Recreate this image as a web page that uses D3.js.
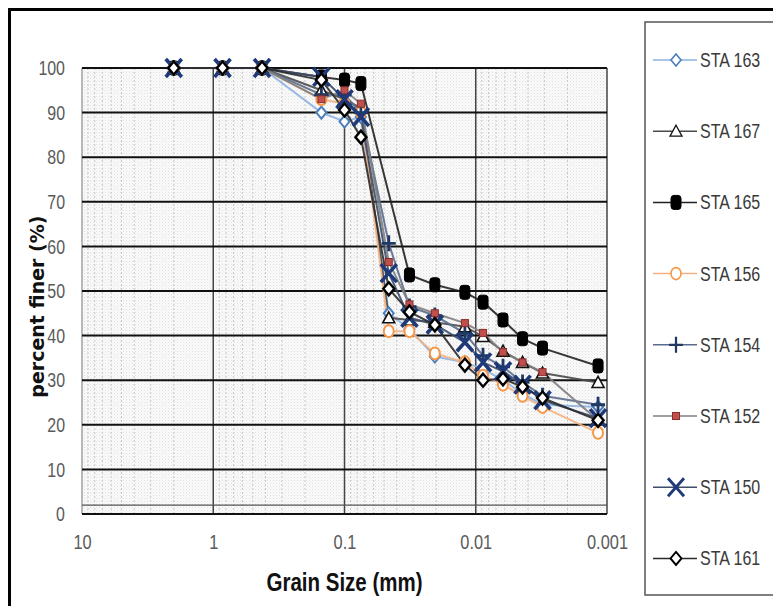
<!DOCTYPE html>
<html>
<head>
<meta charset="utf-8">
<script src="https://cdn.jsdelivr.net/npm/d3@7"></script>
<style>
  body { margin: 0; background: #ffffff; }
  #chart { width: 773px; height: 606px; }
</style>
</head>
<body>
<div id="chart"></div>
<script>
// series names, in legend order
let seriesNames = ['STA 163', 'STA 167', 'STA 165', 'STA 156', 'STA 154', 'STA 152', 'STA 150', 'STA 161']
// grain sizes (mm): sieve part then hydrometer part
let grainSizes = [2, 0.85, 0.425, 0.15, 0.1, 0.075, 0.046, 0.032, 0.0205, 0.0121, 0.0088, 0.0062, 0.0044, 0.0031, 0.00117]
// percent finer per station (null = no reading)
let sta163 = [100, 100, 100, 90, 88, 89, 45, 41.5, 35.3, 34, 32.5, 30, 27, 24.5, 24]
let sta167 = [100, 100, 100, 95, 93, 91, 44, 43.5, 43, 42, 39.8, 36.5, 34, 31.6, 29.5]
let sta165 = [100, 100, 100, 98, 97.3, 96.5, null, 53.6, 51.4, 49.7, 47.5, 43.5, 39.3, 37.2, 33.2]
let sta156 = [100, 100, 100, 93, 92, 90, 41, 41, 36, 34, 31, 29, 26.5, 24, 18.2]
let sta154 = [100, 100, 100, 94, 94, 90, 60.7, 46.5, 44.5, 40.5, 35.5, 33, 29.5, 26.5, 24.5]
let sta152 = [100, 100, 100, 93, 95, 92, 56.5, 47, 45, 42.8, 40.6, 36.3, 34, 31.8, 21]
let sta150 = [100, 100, 100, 98, 93, 89, 54, 44, 42.5, 38.5, 34, 32, 29, 25.5, 21.5]
let sta161 = [100, 100, 100, 97.3, 90.6, 84.5, 50.5, 45.3, 42.4, 33.4, 30, 30.3, 28.5, 26, 21]
let xTicks = [10, 1, 0.1, 0.01, 0.001]
let xTickLabels = ['10', '1', '0.1', '0.01', '0.001']
let yTicks = [0, 10, 20, 30, 40, 50, 60, 70, 80, 90, 100]

// squeeze text horizontally, the fonts here are wider than the original one
function condense (sel, f) {
  sel.each(function () {
    let t = d3.select(this)
    let tx = +t.attr('x') || 0
    let ty = +t.attr('y') || 0
    t.attr('x', 0)
      .attr('y', 0)
      .attr('transform', 'translate(' + tx + ',' + ty + ') scale(' + f + ',1)')
  })
}

let initChart = () => {
  let width = 773
  let height = 606
  let margin = { left: 82, right: 166, top: 68, bottom: 92 }
  let font = 'Liberation Sans, Arial, sans-serif'

  let svg = d3.select('#chart')
    .append('svg')
    .attr('width', width)
    .attr('height', height)

  svg.append('rect')
    .attr('width', width)
    .attr('height', height)
    .attr('fill', '#ffffff')

  let x = d3.scaleLog()
    .domain([10, 0.001])
    .range([margin.left, width - margin.right])
  let y = d3.scaleLinear()
    .domain([0, 100])
    .range([height - margin.bottom, margin.top])

  // dotted texture of the plot area
  let defs = svg.append('defs')
  let pat = defs.append('pattern')
    .attr('id', 'dots')
    .attr('width', 3)
    .attr('height', 3)
    .attr('patternUnits', 'userSpaceOnUse')
  pat.append('rect').attr('width', 3).attr('height', 3).attr('fill', '#fafafa')
  pat.append('rect').attr('width', 1).attr('height', 1).attr('fill', '#e0e0e0')
  pat.append('rect').attr('x', 1.5).attr('y', 1.5).attr('width', 1).attr('height', 1).attr('fill', '#ebebeb')

  svg.append('rect')
    .attr('x', x(10))
    .attr('y', y(100))
    .attr('width', x(0.001) - x(10))
    .attr('height', y(0) - y(100))
    .attr('fill', 'url(#dots)')

  // minor vertical grid
  let minor = []
  xTicks.slice(1).forEach(function (t) {
    for (let k = 2; k <= 9; k++) minor.push(t * k)
  })
  svg.append('g')
    .selectAll('line')
    .data(minor)
    .enter()
    .append('line')
    .attr('x1', function (d) { return x(d) })
    .attr('x2', function (d) { return x(d) })
    .attr('y1', y(100))
    .attr('y2', y(0))
    .attr('stroke', '#c8c8c8')
    .attr('stroke-width', 1)
    .attr('stroke-dasharray', '2,2')

  // major vertical grid
  svg.append('g')
    .selectAll('line')
    .data(xTicks)
    .enter()
    .append('line')
    .attr('x1', function (d) { return x(d) })
    .attr('x2', function (d) { return x(d) })
    .attr('y1', y(100))
    .attr('y2', y(0))
    .attr('stroke', function (d) { return (d === 10) ? '#a0a0a0' : '#444444' })
    .attr('stroke-width', 1.5)

  // horizontal grid
  svg.append('g')
    .selectAll('line')
    .data(yTicks)
    .enter()
    .append('line')
    .attr('x1', x(10))
    .attr('x2', x(0.001))
    .attr('y1', function (d) { return y(d) })
    .attr('y2', function (d) { return y(d) })
    .attr('stroke', '#111111')
    .attr('stroke-width', 2)
  svg.append('line')
    .attr('x1', x(10))
    .attr('x2', x(0.001))
    .attr('y1', y(2))
    .attr('y2', y(2))
    .attr('stroke', '#555555')
    .attr('stroke-width', 1.2)

  // axes
  let yAxis = d3.axisLeft(y).tickValues(yTicks).tickSize(0).tickPadding(17)
  svg.append('g')
    .attr('transform', 'translate(' + x(10) + ',0)')
    .call(yAxis)
    .call(function (g) { g.select('.domain').remove() })
    .selectAll('text')
    .attr('font-family', font)
    .attr('font-size', 21)
    .attr('fill', '#5a5a5a')
    .call(condense, 0.76)

  let xAxis = d3.axisBottom(x)
    .tickValues(xTicks)
    .tickFormat(function (d, i) { return xTickLabels[i] })
    .tickSize(0)
    .tickPadding(20)
  svg.append('g')
    .attr('transform', 'translate(0,' + y(0) + ')')
    .call(xAxis)
    .call(function (g) { g.select('.domain').remove() })
    .selectAll('text')
    .attr('font-family', font)
    .attr('font-size', 21)
    .attr('fill', '#5a5a5a')
    .call(condense, 0.78)

  svg.append('text')
    .attr('x', x(0.1))
    .attr('y', 591)
    .attr('text-anchor', 'middle')
    .attr('font-family', font)
    .attr('font-weight', 'bold')
    .attr('font-size', 25)
    .attr('fill', '#111111')
    .text('Grain Size (mm)')
    .call(condense, 0.82)

  svg.append('text')
    .attr('transform', 'translate(44,' + y(46.5) + ') rotate(-90)')
    .attr('text-anchor', 'middle')
    .attr('font-family', 'DejaVu Sans, Verdana, sans-serif')
    .attr('font-weight', 'bold')
    .attr('font-size', 19)
    .attr('fill', '#111111')
    .text('percent finer (%)')

  // series styles
  let values = [sta163, sta167, sta165, sta156, sta154, sta152, sta150, sta161]
  let lineColor = ['#8db3e2', '#4a4a4a', '#222222', '#f4b183', '#5b6b8c', '#808080', '#3d4d6a', '#2b2b2b']
  let markColor = ['#4a7ebb', '#111111', '#000000', '#f79646', '#1f3864', '#c0504d', '#1f3a78', '#000000']

  let data = seriesNames.map(function (name, i) {
    return {
      name: name,
      i: i,
      points: grainSizes.map(function (s, j) {
        return { size: s, pct: values[i][j] }
      }).filter(function (p) { return p.pct !== null })
    }
  })

  let line = d3.line()
    .x(function (d) { return x(d.size) })
    .y(function (d) { return y(d.pct) })

  function drawMarker (g, i, scale) {
    let c = markColor[i]
    if (i === 0) {
      g.append('path').attr('d', 'M0,-6L5,0L0,6L-5,0Z')
        .attr('fill', '#ffffff').attr('stroke', c).attr('stroke-width', 2 * scale)
    } else if (i === 1) {
      g.append('path').attr('d', 'M0,-6L6,5L-6,5Z')
        .attr('fill', '#ffffff').attr('stroke', c).attr('stroke-width', 1.6 * scale)
    } else if (i === 2) {
      g.append('rect').attr('x', -5).attr('y', -7).attr('width', 10).attr('height', 14)
        .attr('rx', 3).attr('fill', c).attr('stroke', '#000000').attr('stroke-width', 1)
    } else if (i === 3) {
      g.append('ellipse').attr('rx', 5).attr('ry', 6)
        .attr('fill', '#ffffff').attr('stroke', c).attr('stroke-width', 2 * scale)
    } else if (i === 4) {
      g.append('path').attr('d', 'M-7,0H7M0,-8V8')
        .attr('stroke', c).attr('stroke-width', 2.8 * scale)
    } else if (i === 5) {
      g.append('rect').attr('x', -3.5).attr('y', -3.5).attr('width', 7).attr('height', 7)
        .attr('fill', c).attr('stroke', '#8b2c2a').attr('stroke-width', 1)
    } else if (i === 6) {
      g.append('path').attr('d', 'M-8,-9L8,9M8,-9L-8,9')
        .attr('stroke', c).attr('stroke-width', 3.6 * scale)
    } else {
      g.append('path').attr('d', 'M0,-6.5L5.5,0L0,6.5L-5.5,0Z')
        .attr('fill', '#ffffff').attr('stroke', c).attr('stroke-width', 2.4 * scale)
    }
  }

  let plot = svg.append('g')
  plot.selectAll('path.series')
    .data(data)
    .enter()
    .append('path')
    .attr('class', 'series')
    .attr('d', function (d) { return line(d.points) })
    .attr('fill', 'none')
    .attr('stroke', function (d) { return lineColor[d.i] })
    .attr('stroke-width', 2)
    .attr('stroke-opacity', 0.9)

  data.forEach(function (d) {
    d.points.forEach(function (p) {
      let g = plot.append('g')
        .attr('transform', 'translate(' + x(p.size) + ',' + y(p.pct) + ')')
      drawMarker(g, d.i, 1)
    })
  })

  // legend
  let lg = svg.append('g')
  lg.append('rect')
    .attr('x', 645)
    .attr('y', 22)
    .attr('width', 140)
    .attr('height', 573)
    .attr('fill', '#ffffff')
    .attr('stroke', '#555555')
    .attr('stroke-width', 1.5)

  let item = lg.selectAll('g.item')
    .data(data)
    .enter()
    .append('g')
    .attr('class', 'item')
    .attr('transform', function (d) { return 'translate(676,' + (60 + d.i * 71.2) + ')' })

  item.append('line')
    .attr('x1', -23)
    .attr('x2', 21)
    .attr('stroke', function (d) { return lineColor[d.i] })
    .attr('stroke-width', 1.5)
  item.each(function (d) {
    drawMarker(d3.select(this), d.i, 0.8)
  })
  item.append('text')
    .attr('x', 24)
    .attr('dy', '0.35em')
    .attr('font-family', font)
    .attr('font-size', 20)
    .attr('fill', '#3a3a3a')
    .text(function (d) { return d.name })
    .call(condense, 0.8)

  // outer frame
  svg.append('path')
    .attr('d', 'M9.5,606V9.5H773')
    .attr('fill', 'none')
    .attr('stroke', '#000000')
    .attr('stroke-width', 3)
}

initChart()
</script>
</body>
</html>
